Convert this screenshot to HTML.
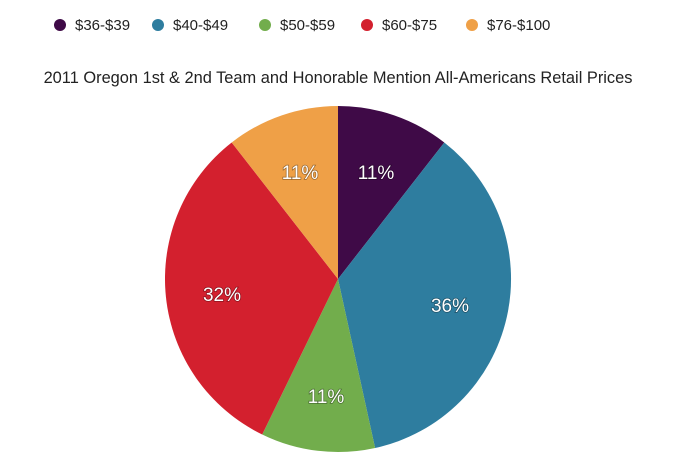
<!DOCTYPE html>
<html><head><style>
body{margin:0;background:#fff;}
svg{display:block;font-family:"Liberation Sans",sans-serif;}
.l{font-size:15px;fill:#222;}
.p{font-size:19px;fill:#fff;text-anchor:middle;paint-order:stroke;stroke:rgba(0,0,0,0.35);stroke-width:1.5px;}
</style></head><body>
<svg width="692" height="462" viewBox="0 0 692 462">
<circle cx="60" cy="25" r="6" fill="#3f0a47"/><text class="l" x="75" y="30">$36-$39</text>
<circle cx="158" cy="25" r="6" fill="#2e7d9f"/><text class="l" x="173" y="30">$40-$49</text>
<circle cx="265" cy="25" r="6" fill="#72ad4c"/><text class="l" x="280" y="30">$50-$59</text>
<circle cx="367" cy="25" r="6" fill="#d3202e"/><text class="l" x="382" y="30">$60-$75</text>
<circle cx="472" cy="25" r="6" fill="#efa047"/><text class="l" x="487" y="30">$76-$100</text>
<text x="338" y="83" text-anchor="middle" style="font-size:16.4px;fill:#222">2011 Oregon 1st &amp; 2nd Team and Honorable Mention All-Americans Retail Prices</text>
<path d="M338,279 L338,106 A173,173 0 0 1 444.3,142.5 Z" fill="#3f0a47"/>
<path d="M338,279 L444.3,142.5 A173,173 0 0 1 375.1,448 Z" fill="#2e7d9f"/>
<path d="M338,279 L375.1,448 A173,173 0 0 1 262.2,434.5 Z" fill="#72ad4c"/>
<path d="M338,279 L262.2,434.5 A173,173 0 0 1 231.7,142.5 Z" fill="#d3202e"/>
<path d="M338,279 L231.7,142.5 A173,173 0 0 1 338,106 Z" fill="#efa047"/>
<text class="p" x="376" y="179">11%</text>
<text class="p" x="450" y="312">36%</text>
<text class="p" x="326" y="403">11%</text>
<text class="p" x="222" y="301">32%</text>
<text class="p" x="300" y="179">11%</text>
</svg>
</body></html>
